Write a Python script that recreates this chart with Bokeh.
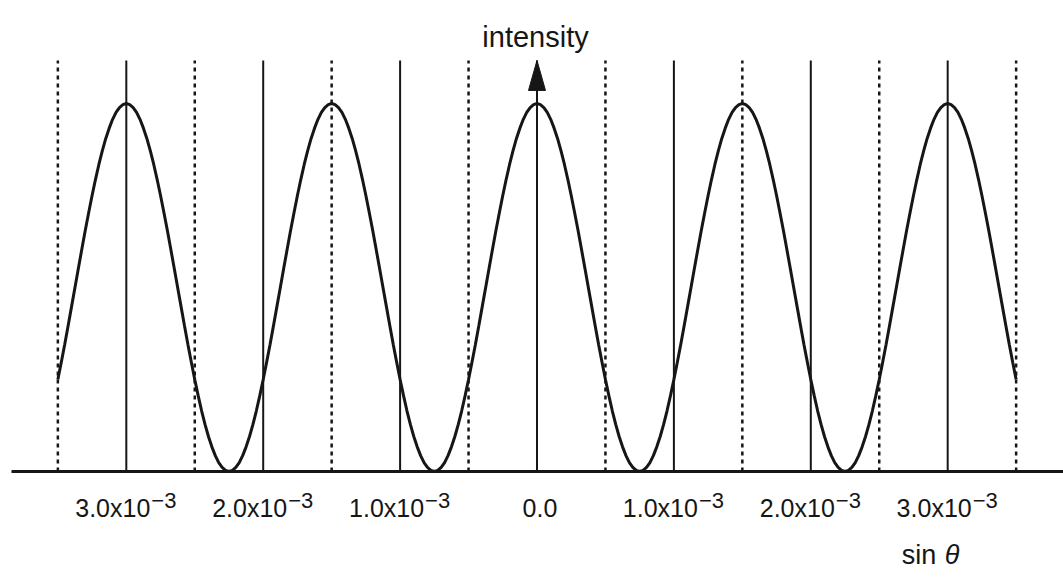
from bokeh.plotting import figure
from bokeh.models import Range1d
from bokeh.core.properties import value
from bokeh.embed import file_html
from bokeh.resources import INLINE

# intensity every 0.025e-3 in sin(theta), from -3.5e-3 to 3.5e-3
intensity = [
    0.250, 0.297, 0.345, 0.396, 0.448, 0.500, 0.552, 0.604, 0.655, 0.703,
    0.750, 0.794, 0.835, 0.872, 0.905, 0.933, 0.957, 0.976, 0.989, 0.997,
    # peak at -3.0e-3
    1.000, 0.997, 0.989, 0.976, 0.957, 0.933, 0.905, 0.872, 0.835, 0.794,
    0.750, 0.703, 0.655, 0.604, 0.552, 0.500, 0.448, 0.396, 0.345, 0.297,
    0.250, 0.206, 0.165, 0.128, 0.095, 0.067, 0.043, 0.024, 0.011, 0.003,
    0.000, 0.003, 0.011, 0.024, 0.043, 0.067, 0.095, 0.128, 0.165, 0.206,
    0.250, 0.297, 0.345, 0.396, 0.448, 0.500, 0.552, 0.604, 0.655, 0.703,
    0.750, 0.794, 0.835, 0.872, 0.905, 0.933, 0.957, 0.976, 0.989, 0.997,
    # peak at -1.5e-3
    1.000, 0.997, 0.989, 0.976, 0.957, 0.933, 0.905, 0.872, 0.835, 0.794,
    0.750, 0.703, 0.655, 0.604, 0.552, 0.500, 0.448, 0.396, 0.345, 0.297,
    0.250, 0.206, 0.165, 0.128, 0.095, 0.067, 0.043, 0.024, 0.011, 0.003,
    0.000, 0.003, 0.011, 0.024, 0.043, 0.067, 0.095, 0.128, 0.165, 0.206,
    0.250, 0.297, 0.345, 0.396, 0.448, 0.500, 0.552, 0.604, 0.655, 0.703,
    0.750, 0.794, 0.835, 0.872, 0.905, 0.933, 0.957, 0.976, 0.989, 0.997,
    # peak at 0
    1.000, 0.997, 0.989, 0.976, 0.957, 0.933, 0.905, 0.872, 0.835, 0.794,
    0.750, 0.703, 0.655, 0.604, 0.552, 0.500, 0.448, 0.396, 0.345, 0.297,
    0.250, 0.206, 0.165, 0.128, 0.095, 0.067, 0.043, 0.024, 0.011, 0.003,
    0.000, 0.003, 0.011, 0.024, 0.043, 0.067, 0.095, 0.128, 0.165, 0.206,
    0.250, 0.297, 0.345, 0.396, 0.448, 0.500, 0.552, 0.604, 0.655, 0.703,
    0.750, 0.794, 0.835, 0.872, 0.905, 0.933, 0.957, 0.976, 0.989, 0.997,
    # peak at 1.5e-3
    1.000, 0.997, 0.989, 0.976, 0.957, 0.933, 0.905, 0.872, 0.835, 0.794,
    0.750, 0.703, 0.655, 0.604, 0.552, 0.500, 0.448, 0.396, 0.345, 0.297,
    0.250, 0.206, 0.165, 0.128, 0.095, 0.067, 0.043, 0.024, 0.011, 0.003,
    0.000, 0.003, 0.011, 0.024, 0.043, 0.067, 0.095, 0.128, 0.165, 0.206,
    0.250, 0.297, 0.345, 0.396, 0.448, 0.500, 0.552, 0.604, 0.655, 0.703,
    0.750, 0.794, 0.835, 0.872, 0.905, 0.933, 0.957, 0.976, 0.989, 0.997,
    # peak at 3.0e-3
    1.000, 0.997, 0.989, 0.976, 0.957, 0.933, 0.905, 0.872, 0.835, 0.794,
    0.750, 0.703, 0.655, 0.604, 0.552, 0.500, 0.448, 0.396, 0.345, 0.297,
    0.250,
]
# sample positions in units of 1e-3
sin_theta = [round(-3.5 + 0.025 * i, 3) for i in range(len(intensity))]

solid_x = [-3, -2, -1, 0, 1, 2, 3]
dashed_x = [-3.5, -2.5, -1.5, -0.5, 0.5, 1.5, 2.5, 3.5]
tick_x = [-3, -2, -1, 1, 2, 3]
tick_main = ["3.0x10", "2.0x10", "1.0x10", "1.0x10", "2.0x10", "3.0x10"]
tick_exp = ["\u22123"] * 6
zero_x = [0]
zero_label = ["0.0"]
line_top = 1.117

W, H = 1063, 578
X0, X1 = -3.919, 3.846
Y0, Y1 = -0.2908, 1.2799
px_x = W / (X1 - X0)
px_y = H / (Y1 - Y0)

INK = "#161616"
FONT = value("Liberation Sans")

p = figure(width=W, height=H, x_range=Range1d(X0, X1), y_range=Range1d(Y0, Y1),
           output_backend="svg", toolbar_location=None,
           x_axis_type=None, y_axis_type=None, min_border=0,
           min_border_left=0, min_border_right=0, min_border_top=0, min_border_bottom=0)
p.grid.visible = False
p.outline_line_color = None
p.background_fill_color = "#ffffff"
p.border_fill_color = "#ffffff"

# vertical reference lines
p.segment(x0=solid_x, y0=[0] * len(solid_x), x1=solid_x, y1=[line_top] * len(solid_x),
          line_color=INK, line_width=2)
p.segment(x0=dashed_x, y0=[0] * len(dashed_x), x1=dashed_x, y1=[line_top] * len(dashed_x),
          line_color=INK, line_width=2.5, line_dash="4 4")

# intensity curve
p.line(sin_theta, intensity, line_color=INK, line_width=3)

# baseline
p.segment(x0=[X0 + 11 / px_x], y0=[0], x1=[X1], y1=[0], line_color=INK, line_width=3)

# arrow head on the intensity axis
hh = 30 / px_y
hw = 8.5 / px_x
p.patch([-hw, 0, hw], [line_top - hh, line_top, line_top - hh],
        fill_color=INK, line_color=INK, line_width=1)

# tick labels
p.text(x=tick_x, y=[0] * len(tick_x), text=tick_main, text_align="right",
       text_baseline="alphabetic", x_offset=24, y_offset=37,
       text_font=FONT, text_font_size="25px", text_color=INK)
p.text(x=tick_x, y=[0] * len(tick_x), text=tick_exp, text_align="left",
       text_baseline="alphabetic", x_offset=25, y_offset=29,
       text_font=FONT, text_font_size="22px", text_color=INK)
p.text(x=zero_x, y=[0], text=zero_label, text_align="center",
       text_baseline="alphabetic", x_offset=3, y_offset=37,
       text_font=FONT, text_font_size="25px", text_color=INK)

# axis titles
p.text(x=[0], y=[line_top], text=["intensity"], text_align="center",
       text_baseline="alphabetic", x_offset=-1.5, y_offset=-23,
       text_font=FONT, text_font_size="29px", text_color=INK)
p.text(x=[3], y=[0], text=["sin"], text_align="left",
       text_baseline="alphabetic", x_offset=-46, y_offset=84,
       text_font=FONT, text_font_size="27px", text_color=INK)
p.text(x=[3], y=[0], text=["\u03b8"], text_align="left",
       text_baseline="alphabetic", x_offset=-3, y_offset=84,
       text_font=FONT, text_font_size="27px", text_font_style="italic", text_color=INK)

open("out.html", "w").write(file_html(p, INLINE))
